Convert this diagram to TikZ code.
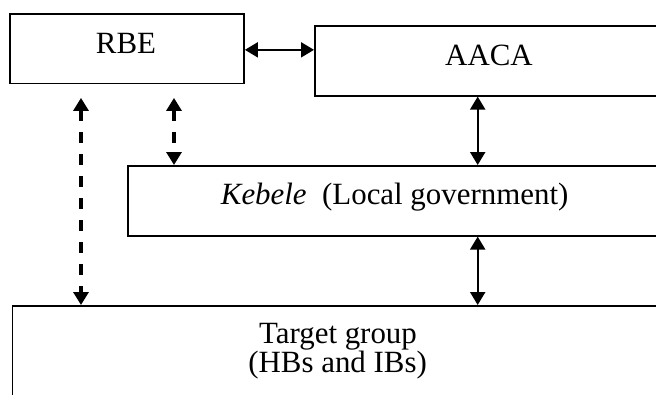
\documentclass[tikz,border=0pt]{standalone}
\usepackage{fontspec}
\setmainfont{Liberation Serif}
\usetikzlibrary{arrows.meta,calc}
\begin{document}
\begin{tikzpicture}[x=1pt,y=-1pt,
  box/.style={draw, line width=1.6pt, rectangle, inner sep=0pt, anchor=north west},
  lbl/.style={font=\fontsize{30.9}{31}\selectfont, inner sep=0pt},
  link/.style={line width=2.2pt, {Triangle[length=13pt,width=15pt]}-{Triangle[length=13pt,width=15pt]}},
  dlink/.style={line width=3.2pt, dash pattern=on 11pt off 11pt,
    {Triangle[length=13pt,width=15pt]}-{Triangle[length=13pt,width=15pt]}}
]
\clip (0,0) rectangle (656,394);
\fill[white] (0,0) rectangle (656,394);

% boxes
\node[box, minimum width=234pt, minimum height=69.5pt] (rbe) at (9.3,13.3) {};
\node[box, minimum width=400pt, minimum height=70pt] (aaca) at (314,25) {};
\node[box, minimum width=600pt, minimum height=70pt] (keb) at (127.3,165) {};
\node[box, minimum width=700pt, minimum height=150pt] (tg) at (11.5,305) {};

% labels
\node[lbl, anchor=base] (rbet) at (126,53.3) {RBE};
\node[lbl, anchor=base] (aacat) at (489,65) {AACA};
\node[lbl, anchor=base west] (kebt) at (220.7,204) {\textit{Kebele}\ \ (Local government)};
\node[lbl, anchor=base] (tgt1) at (338,343) {Target group};
\node[lbl, anchor=base] (tgt2) at (337.6,372.7) {(HBs and IBs)};

% connector columns
\coordinate (xa) at (81,0);
\coordinate (xb) at (174,0);
\coordinate (xc) at (477.7,0);

% connectors
\draw[link, line width=2pt] ([yshift=-1pt]rbe.east) -- ([yshift=-1pt]rbe.east -| aaca.west);
\draw[link] (xc |- aaca.south) -- (xc |- keb.north);
\draw[link] (xc |- keb.south) -- (xc |- tg.north);
\draw[dlink, shorten <=13.5pt] (xa |- rbe.south) -- (xa |- tg.north);
\draw[dlink, shorten <=13.5pt] (xb |- rbe.south) -- (xb |- keb.north);
\end{tikzpicture}
\end{document}
